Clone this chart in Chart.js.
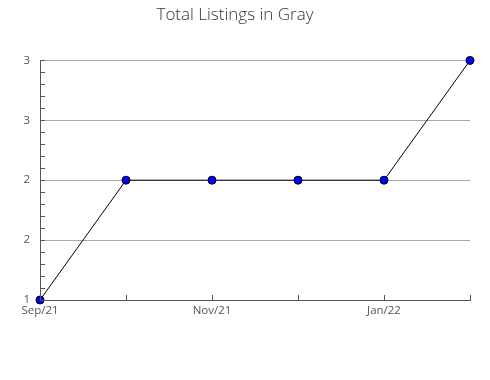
<!DOCTYPE html>
<html>
<head>
<meta charset="utf-8">
<script src="https://cdn.jsdelivr.net/npm/chart.js@4/dist/chart.umd.min.js"></script>
<style>
html,body{margin:0;padding:0;background:#fff;}
#wrap{width:490px;height:380px;position:relative;}
</style>
</head>
<body>
<div id="wrap"><canvas id="c" width="490" height="380"></canvas></div>
<script>
const categories = ['Sep/21','Oct/21','Nov/21','Dec/21','Jan/22','Feb/22'];
const listings = [1, 2, 2, 2, 2, 3];
const shownXLabels = ['Sep/21','Nov/21','Jan/22'];
const yMin = 1, yMax = 3, yStep = 0.5, yMinorStep = 0.1;

const innerTicks = {
  id: 'innerTicks',
  afterDraw(chart) {
    const {ctx, chartArea, scales} = chart;
    const x = scales.x, y = scales.y;
    ctx.save();
    ctx.strokeStyle = '#555';
    ctx.lineWidth = 1;
    ctx.beginPath();
    for (let v = yMin; v <= yMax + 1e-9; v += yMinorStep) {
      const py = Math.round(y.getPixelForValue(v)) + 0.5;
      ctx.moveTo(chartArea.left, py);
      ctx.lineTo(chartArea.left + 5, py);
    }
    for (let i = 0; i < categories.length; i++) {
      const px = Math.round(x.getPixelForValue(i)) + 0.5;
      ctx.moveTo(px, chartArea.bottom);
      ctx.lineTo(px, chartArea.bottom - 5);
    }
    ctx.stroke();
    ctx.restore();
  }
};

new Chart(document.getElementById('c'), {
  type: 'line',
  data: {
    labels: categories,
    datasets: [{
      data: listings,
      borderColor: '#000',
      borderWidth: 1,
      pointBackgroundColor: '#0000ff',
      pointBorderColor: '#000',
      pointBorderWidth: 1,
      pointRadius: 4,
      tension: 0,
      clip: false
    }]
  },
  options: {
    responsive: false,
    animation: false,
    devicePixelRatio: 1,
    layout: {padding: {left: 0, right: 20, top: 0, bottom: 0}},
    plugins: {
      legend: {display: false},
      tooltip: {enabled: false},
      title: {
        display: true,
        text: 'Total Listings in Gray',
        color: '#333',
        font: {family: 'Open Sans', size: 17, weight: '300'},
        padding: {top: 5, bottom: 35}
      }
    },
    scales: {
      x: {
        offset: false,
        grid: {display: false, drawTicks: false},
        border: {display: true, color: '#555', width: 1},
        ticks: {
          autoSkip: false,
          maxRotation: 0,
          padding: 4,
          color: '#555',
          font: {family: 'Open Sans', size: 11.5},
          callback: function(v, i) { const l = categories[i]; return shownXLabels.includes(l) ? l : ''; }
        },
        afterFit(scale) { scale.height = 80; }
      },
      y: {
        min: yMin, max: yMax,
        grid: {
          drawTicks: false,
          color: (c) => (c.tick && c.tick.value === yMin) ? 'rgba(0,0,0,0)' : '#aaa'
        },
        border: {display: true, color: '#555', width: 1},
        ticks: {
          stepSize: yStep,
          padding: 10,
          color: '#555',
          font: {family: 'Open Sans', size: 11.5},
          callback: (v) => String(Math.round(v))
        },
        afterFit(scale) { scale.width = 40; }
      }
    }
  },
  plugins: [innerTicks]
});
</script>
</body>
</html>
